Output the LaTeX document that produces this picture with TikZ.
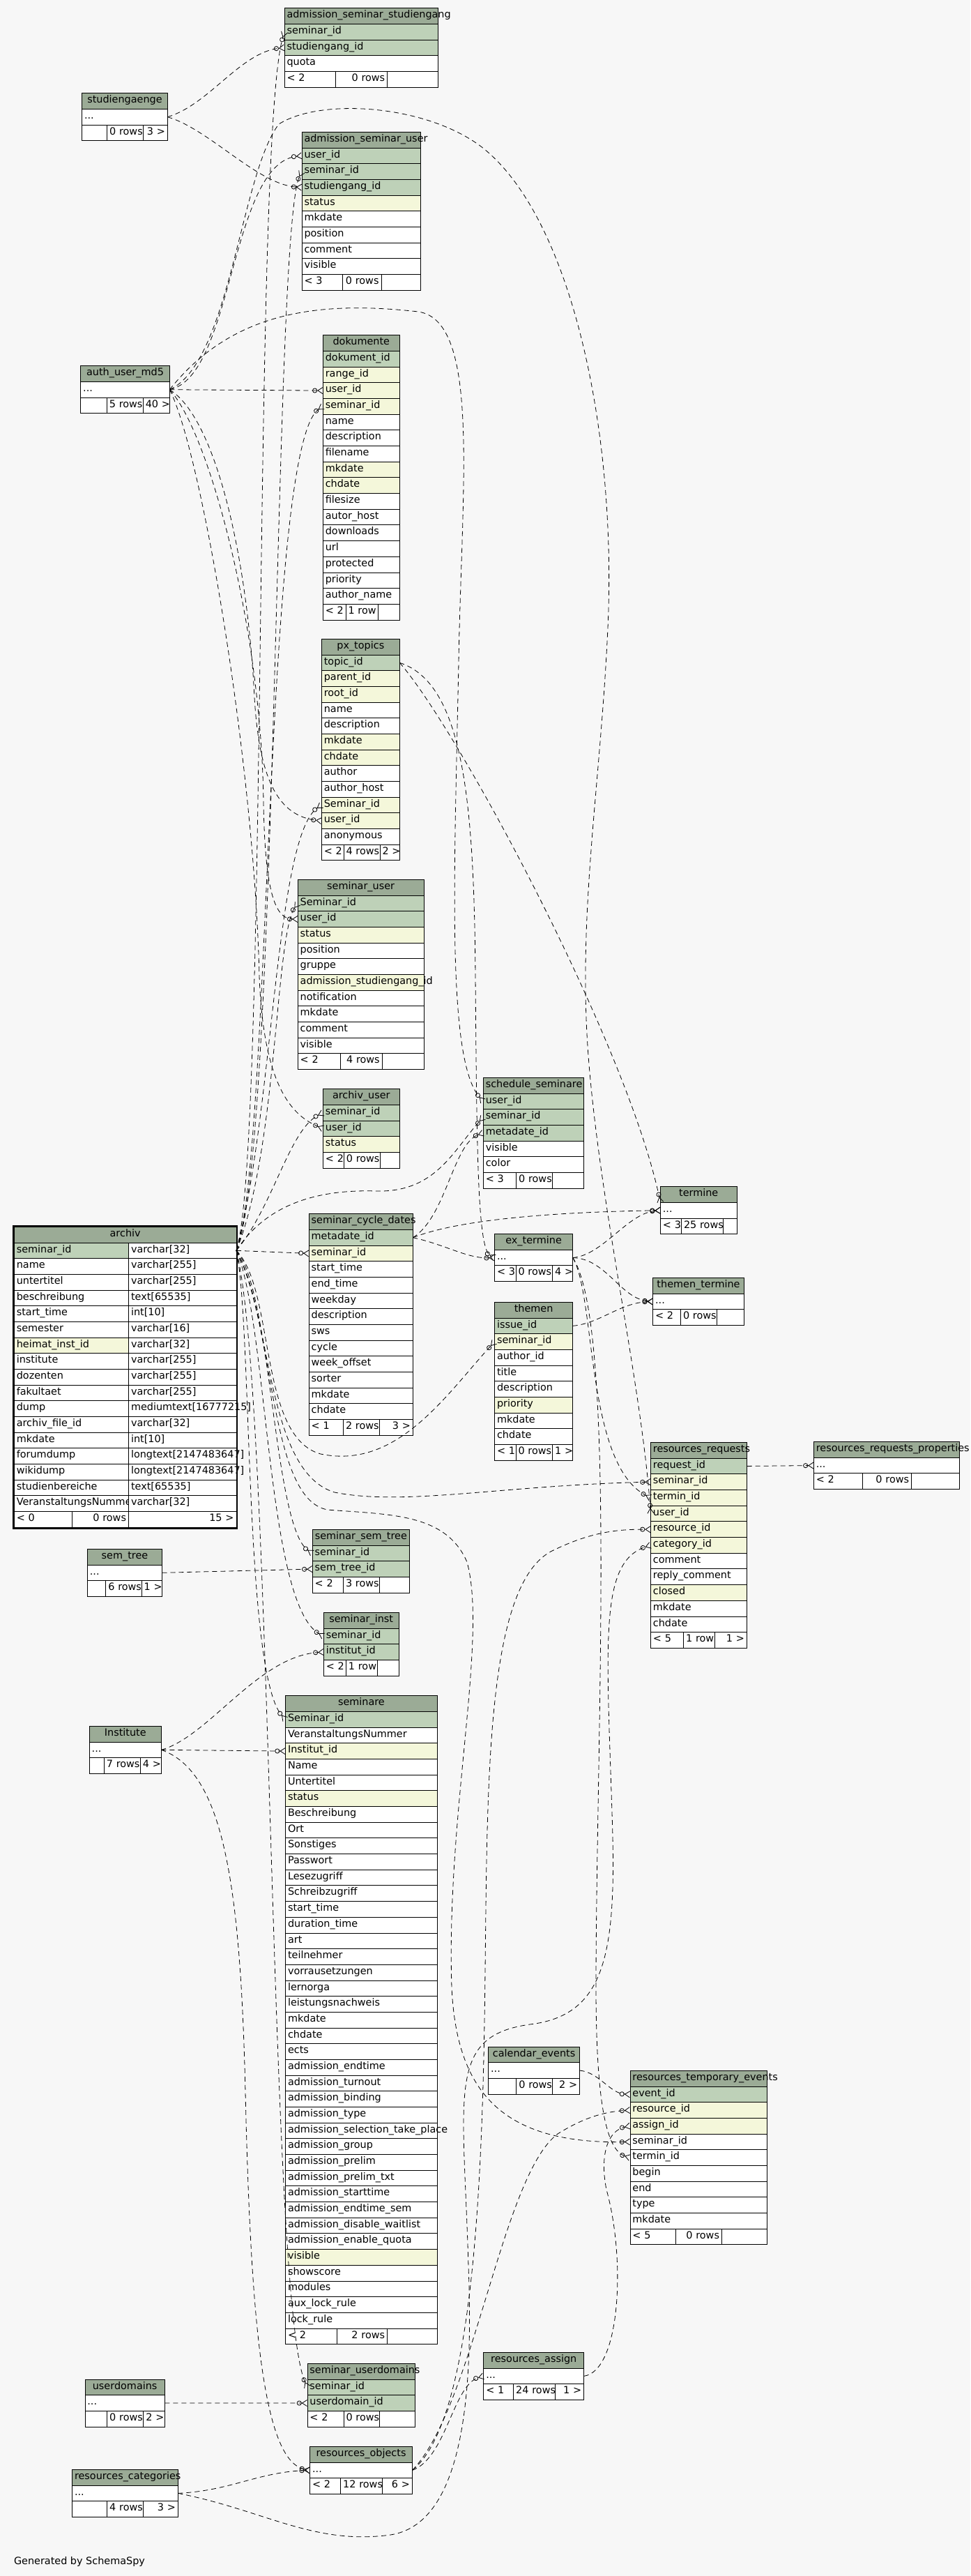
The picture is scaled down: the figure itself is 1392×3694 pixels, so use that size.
\documentclass[tikz,border=0pt]{standalone}
\usepackage{fontspec}
\setmainfont{DejaVu Sans}
\usepackage{tikz}
\usetikzlibrary{arrows.meta,positioning,fit}

\definecolor{hdr}{HTML}{9BAB96}
\definecolor{pk}{HTML}{BED1B8}
\definecolor{ix}{HTML}{F4F7DA}
\definecolor{wt}{HTML}{FFFFFF}
\definecolor{bg}{HTML}{F7F7F7}

\newcommand{\tdots}{...}
\newcommand{\dbfont}{\fontsize{14.4pt}{17pt}\selectfont}

%% table: name, x, y, width, title, rows (text/colour)
\newcommand{\dbtab}[6]{%
  \pgfmathsetlengthmacro{\dbtw}{#4-7}%
  \node[thead, text width=\dbtw, anchor=north west] (#1-0) at (#2,#3) {#5};
  \foreach \txt/\kind [count=\i, evaluate=\i as \j using int(\i-1)] in {#6}
    \node[trow, fill=\kind, text width=\dbtw, below=0pt of #1-\j] (#1-\i) {\txt};
}
%% footer: name, last row, three cell widths, three texts
\newcommand{\dbfoot}[8]{%
  \pgfmathsetlengthmacro{\dbwa}{#3-7}%
  \pgfmathsetlengthmacro{\dbwb}{#4-7}%
  \pgfmathsetlengthmacro{\dbwc}{#5-7}%
  \node[tcell, text width=\dbwa, align=left, anchor=north west] (#1-fa) at (#1-#2.south west) {\mbox{#6}};
  \node[tcell, text width=\dbwb, align=right, right=0pt of #1-fa] (#1-fb) {\mbox{#7}};
  \node[tcell, text width=\dbwc, align=right, right=0pt of #1-fb] (#1-fc) {\mbox{#8}};
}

\begin{document}
\begin{tikzpicture}[x=1pt, y=-1pt,
  thead/.style={rectangle, draw=black, fill=hdr, line width=0.8pt,
    inner xsep=3.5pt, inner ysep=0pt, outer sep=0pt,
    minimum height=22.68pt, text height=10pt, text depth=4.5pt,
    align=center, font=\dbfont},
  trow/.style={thead, align=left},
  tcell/.style={thead, fill=wt},
  rel/.style={line width=0.8pt, dash pattern=on 7pt off 5pt,
    -{Circle[open,length=7pt,width=7pt] Straight Barb[reversed,length=7pt,width=9pt]}},
]

\path[fill=bg, use as bounding box] (0,0) rectangle (1392,3694);

%% ── Tables, top ───────────────────────────────────────────────────
\dbtab{ass}{408}{11.7}{220.3}{admission\_seminar\_studiengang}{seminar\_id/pk, studiengang\_id/pk, quota/wt}
\dbfoot{ass}{3}{73.4}{74.3}{72.6}{< 2}{0 rows}{}

\dbtab{sg}{117.5}{133.7}{122.9}{studiengaenge}{\tdots/wt}
\dbfoot{sg}{1}{36.1}{52.1}{34.7}{}{0 rows}{3 >}

\dbtab{asu}{433}{189.3}{170}{admission\_seminar\_user}{user\_id/pk, seminar\_id/pk, studiengang\_id/pk, status/ix, mkdate/wt, position/wt, comment/wt, visible/wt}
\dbfoot{asu}{8}{58.8}{55.2}{56}{< 3}{0 rows}{}

\dbtab{aum}{115.7}{524.7}{127.6}{auth\_user\_md5}{\tdots/wt}
\dbfoot{aum}{1}{37.6}{52}{38}{}{5 rows}{40 >}

\dbtab{dok}{463.3}{480.7}{110}{dokumente}{dokument\_id/pk, range\_id/ix, user\_id/ix, seminar\_id/ix, name/wt, description/wt, filename/wt, mkdate/ix, chdate/ix, filesize/wt, autor\_host/wt, downloads/wt, url/wt, protected/wt, priority/wt, author\_name/wt}
\dbfoot{dok}{16}{32.7}{46}{31.3}{< 2}{1 row}{}

\dbtab{pxt}{461.3}{916.3}{112}{px\_topics}{topic\_id/pk, parent\_id/ix, root\_id/ix, name/wt, description/wt, mkdate/ix, chdate/ix, author/wt, author\_host/wt, Seminar\_id/ix, user\_id/ix, anonymous/wt}
\dbfoot{pxt}{12}{31.7}{52}{28.3}{< 2}{4 rows}{2 >}

\dbtab{su}{427.2}{1261.3}{180.8}{seminar\_user}{Seminar\_id/pk, user\_id/pk, status/ix, position/wt, gruppe/wt, admission\_studiengang\_id/ix, notification/wt, mkdate/wt, comment/wt, visible/wt}
\dbfoot{su}{10}{61.2}{59.8}{59.8}{< 2}{4 rows}{}

\dbtab{au}{463.4}{1561.7}{109.8}{archiv\_user}{seminar\_id/pk, user\_id/pk, status/ix}
\dbfoot{au}{3}{29.9}{52.2}{27.7}{< 2}{0 rows}{}

\dbtab{ss}{693.3}{1545.3}{143.7}{schedule\_seminare}{user\_id/pk, seminar\_id/pk, metadate\_id/pk, visible/wt, color/wt}
\dbfoot{ss}{5}{47.3}{51.4}{45}{< 3}{0 rows}{}

%% ── Tables, middle ────────────────────────────────────────────────
\dbtab{ter}{947.4}{1701.7}{109.6}{termine}{\tdots/wt}
\dbfoot{ter}{1}{30.1}{59.9}{19.6}{< 3}{25 rows}{}

\dbtab{ext}{709.5}{1769.5}{112.2}{ex\_termine}{\tdots/wt}
\dbfoot{ext}{1}{30.5}{52.6}{29.1}{< 3}{0 rows}{4 >}

\dbtab{tt}{936.6}{1832.4}{130.8}{themen\_termine}{\tdots/wt}
\dbfoot{tt}{1}{39.9}{52.3}{38.6}{< 2}{0 rows}{}

\dbtab{thm}{709.5}{1867.3}{112.2}{themen}{issue\_id/pk, seminar\_id/ix, author\_id/wt, title/wt, description/wt, priority/ix, mkdate/wt, chdate/wt}
\dbfoot{thm}{8}{30.5}{52.6}{29.1}{< 1}{0 rows}{1 >}

\dbtab{rr}{933.4}{2068.4}{138.1}{resources\_requests}{request\_id/pk, seminar\_id/ix, termin\_id/ix, user\_id/ix, resource\_id/ix, category\_id/ix, comment/wt, reply\_comment/wt, closed/ix, mkdate/wt, chdate/wt}
\dbfoot{rr}{11}{47.2}{45}{45.9}{< 5}{1 row}{1 >}

\dbtab{rrp}{1167.3}{2067.5}{209.3}{resources\_requests\_properties}{\tdots/wt}
\dbfoot{rrp}{1}{70.4}{69.9}{69}{< 2}{0 rows}{}

\dbtab{scd}{443.2}{1740.7}{149.2}{seminar\_cycle\_dates}{metadate\_id/pk, seminar\_id/ix, start\_time/wt, end\_time/wt, weekday/wt, description/wt, sws/wt, cycle/wt, week\_offset/wt, sorter/wt, mkdate/wt, chdate/wt}
\dbfoot{scd}{12}{49.3}{51.7}{48.2}{< 1}{2 rows}{3 >}

%% ── archiv (two columns) ──────────────────────────────────────────
\node[thead, text width=311.7pt, anchor=north west] (arc-0) at (20.3,1759.3) {archiv};
\foreach \cname/\ctype/\kind [count=\i, evaluate=\i as \j using int(\i-1)] in {
    seminar\_id/varchar[32]/pk, name/varchar[255]/wt, untertitel/varchar[255]/wt,
    beschreibung/text[65535]/wt, start\_time/int[10]/wt, semester/varchar[16]/wt,
    heimat\_inst\_id/varchar[32]/ix, institute/varchar[255]/wt, dozenten/varchar[255]/wt,
    fakultaet/varchar[255]/wt, dump/mediumtext[16777215]/wt, archiv\_file\_id/varchar[32]/wt,
    mkdate/int[10]/wt, forumdump/longtext[2147483647]/wt, wikidump/longtext[2147483647]/wt,
    studienbereiche/text[65535]/wt, VeranstaltungsNummer/varchar[32]/wt} {
  \node[trow, fill=\kind, text width=157.2pt, anchor=north west] (arc-\i) at (arc-\j.south west) {\cname};
  \node[trow, fill=wt, text width=147.5pt, anchor=north west] (arct-\i) at (arc-\i.north east) {\ctype};
}
\dbfoot{arc}{17}{83}{81.2}{154.5}{< 0}{0 rows}{15 >}
\node[draw, line width=2.4pt, inner sep=1.2pt, fit=(arc-0)(arc-fc)] (arcbox) {};

%% ── Tables, lower ─────────────────────────────────────────────────
\dbtab{sst}{448.2}{2193.3}{139.3}{seminar\_sem\_tree}{seminar\_id/pk, sem\_tree\_id/pk}
\dbfoot{sst}{2}{44.3}{52.1}{42.9}{< 2}{3 rows}{}

\dbtab{st}{125.4}{2221.3}{107.1}{sem\_tree}{\tdots/wt}
\dbfoot{st}{1}{26.4}{51.4}{29.3}{}{6 rows}{1 >}

\dbtab{si}{464.3}{2312.3}{107.8}{seminar\_inst}{seminar\_id/pk, institut\_id/pk}
\dbfoot{si}{2}{32.1}{45}{30.7}{< 2}{1 row}{}

\dbtab{inst}{128.2}{2475.3}{103.2}{Institute}{\tdots/wt}
\dbfoot{inst}{1}{21.1}{52.1}{30}{}{7 rows}{4 >}

\dbtab{sem}{409.5}{2431.7}{217.8}{seminare}{Seminar\_id/pk, VeranstaltungsNummer/wt, Institut\_id/ix, Name/wt, Untertitel/wt, status/ix, Beschreibung/wt, Ort/wt, Sonstiges/wt, Passwort/wt, Lesezugriff/wt, Schreibzugriff/wt, start\_time/wt, duration\_time/wt, art/wt, teilnehmer/wt, vorrausetzungen/wt, lernorga/wt, leistungsnachweis/wt, mkdate/wt, chdate/wt, ects/wt, admission\_endtime/wt, admission\_turnout/wt, admission\_binding/wt, admission\_type/wt, admission\_selection\_take\_place/wt, admission\_group/wt, admission\_prelim/wt, admission\_prelim\_txt/wt, admission\_starttime/wt, admission\_endtime\_sem/wt, admission\_disable\_waitlist/wt, admission\_enable\_quota/wt, visible/ix, showscore/wt, modules/wt, aux\_lock\_rule/wt, lock\_rule/wt}
\dbfoot{sem}{39}{73.4}{72.7}{71.7}{< 2}{2 rows}{}

\dbtab{ce}{700.6}{2935}{131.1}{calendar\_events}{\tdots/wt}
\dbfoot{ce}{1}{40.2}{51.6}{39.3}{}{0 rows}{2 >}

\dbtab{rte}{903.9}{2969.3}{196.7}{resources\_temporary\_events}{event\_id/pk, resource\_id/ix, assign\_id/ix, seminar\_id/wt, termin\_id/wt, begin/wt, end/wt, type/wt, mkdate/wt}
\dbfoot{rte}{9}{65.6}{66}{65.1}{< 5}{0 rows}{}

\dbtab{ra}{693.8}{3373.3}{143.9}{resources\_assign}{\tdots/wt}
\dbfoot{ra}{1}{42.9}{60}{41}{< 1}{24 rows}{1 >}

\dbtab{sud}{440.9}{3389.3}{154.3}{seminar\_userdomains}{seminar\_id/pk, userdomain\_id/pk}
\dbfoot{sud}{2}{52.1}{51.4}{50.8}{< 2}{0 rows}{}

\dbtab{ud}{121.9}{3412}{114.5}{userdomains}{\tdots/wt}
\dbfoot{ud}{1}{31.8}{52.1}{30.6}{}{0 rows}{2 >}

\dbtab{ro}{444.6}{3508.3}{146.9}{resources\_objects}{\tdots/wt}
\dbfoot{ro}{1}{44.1}{60}{42.8}{< 2}{12 rows}{6 >}

\dbtab{rc}{103.5}{3541.3}{151.9}{resources\_categories}{\tdots/wt}
\dbfoot{rc}{1}{50.2}{52.1}{49.6}{}{4 rows}{3 >}

\node[anchor=base west, font=\dbfont] (gen) at (16.5,3677) {Generated by SchemaSpy};

%% ── Relations: studiengaenge ──────────────────────────────────────
\draw[rel] (sg-1.east) .. controls (300,150) and (345,75) .. (ass-2.west);
\draw[rel] (sg-1.east) .. controls (300,185) and (370,265) .. (asu-3.west);

%% ── Relations: auth_user_md5 ──────────────────────────────────────
\draw[rel] (aum-1.east) .. controls (335,540) and (330,235) .. (asu-1.west);
\draw[rel] (aum-1.east) -- (dok-3.west);
\draw[rel] (aum-1.east) .. controls (330,450) and (450,430) .. (600,447)
  .. controls (690,460) and (662,700) .. (658,950)
  .. controls (652,1250) and (640,1520) .. (ss-1.west);
\draw[rel] (aum-1.east) .. controls (310,600) and (355,800) .. (365,1000)
  .. controls (372,1120) and (400,1170) .. (pxt-11.west);
\draw[rel] (aum-1.east) .. controls (300,620) and (375,900) .. (378,1150)
  .. controls (380,1280) and (395,1318) .. (su-2.west);
\draw[rel] (aum-1.east) .. controls (290,650) and (365,1100) .. (372,1400)
  .. controls (378,1560) and (420,1600) .. (au-2.west);
\draw[rel] (aum-1.east) .. controls (330,520) and (345,250) .. (400,178)
  .. controls (460,140) and (610,150) .. (690,210)
  .. controls (820,310) and (885,620) .. (872,900)
  .. controls (862,1120) and (830,1300) .. (843,1500)
  .. controls (858,1720) and (920,1980) .. (rr-4.west);

%% ── Relations: archiv ─────────────────────────────────────────────
\draw[rel] (arct-1.east) .. controls (385,1650) and (362,200) .. (ass-1.west);
\draw[rel] (arct-1.east) .. controls (400,1650) and (392,330) .. (asu-2.west);
\draw[rel] (arct-1.east) .. controls (390,1650) and (378,640) .. (dok-4.west);
\draw[rel] (arct-1.east) .. controls (392,1600) and (395,1200) .. (pxt-10.west);
\draw[rel] (arct-1.east) .. controls (398,1650) and (395,1340) .. (su-1.west);
\draw[rel] (arct-1.east) .. controls (392,1730) and (415,1620) .. (au-1.west);
\draw[rel] (arct-1.east) .. controls (380,1730) and (450,1705) .. (540,1708)
  .. controls (625,1710) and (650,1650) .. (ss-2.west);
\draw[rel] (arct-1.east) -- (scd-2.west);
\draw[rel] (arct-1.east) .. controls (395,1850) and (370,2060) .. (460,2085)
  .. controls (570,2108) and (640,2000) .. (thm-2.west);
\draw[rel] (arct-1.east) .. controls (390,1880) and (380,2110) .. (480,2140)
  .. controls (580,2160) and (720,2130) .. (rr-2.west);
\draw[rel] (arct-1.east) .. controls (390,1850) and (392,2190) .. (sst-1.west);
\draw[rel] (arct-1.east) .. controls (385,1900) and (382,2300) .. (si-1.west);
\draw[rel] (arct-1.east) .. controls (362,1900) and (350,2400) .. (sem-1.west);
\draw[rel] (arct-1.east) .. controls (392,2000) and (385,3300) .. (sud-1.west);
\draw[rel] (arct-1.east) .. controls (395,1900) and (385,2150) .. (470,2165)
  .. controls (560,2172) and (640,2170) .. (670,2240)
  .. controls (700,2350) and (640,2600) .. (648,2850)
  .. controls (655,3000) and (720,3075) .. (rte-4.west);

%% ── Relations: dates and topics ───────────────────────────────────
\draw[rel] (scd-1.east) .. controls (640,1745) and (650,1640) .. (ss-3.west);
\draw[rel] (scd-1.east) .. controls (660,1748) and (800,1738) .. (ter-1.west);
\draw[rel] (scd-1.east) .. controls (640,1785) and (670,1805) .. (ext-1.west);
\draw[rel] (pxt-1.east) .. controls (660,1050) and (900,1500) .. (ter-1.north west);
\draw[rel] (pxt-1.east) .. controls (665,980) and (680,1150) .. (682,1400)
  .. controls (684,1650) and (685,1790) .. (ext-1.west);
\draw[rel] (ext-1.east) .. controls (865,1800) and (900,1740) .. (ter-1.west);
\draw[rel] (ext-1.east) .. controls (870,1805) and (890,1862) .. (tt-1.west);
\draw[rel] (ext-1.east) .. controls (855,1860) and (840,2100) .. (rr-3.west);
\draw[rel] (ext-1.east) .. controls (885,1900) and (855,2500) .. (855,2850)
  .. controls (855,3040) and (875,3085) .. (rte-5.west);
\draw[rel] (thm-1.east) .. controls (860,1898) and (890,1868) .. (tt-1.west);
\draw[rel] (rr-1.east) -- (rrp-1.west);

%% ── Relations: resources ──────────────────────────────────────────
\draw[rel] (ro-1.east) .. controls (670,3480) and (690,3200) .. (695,2900)
  .. controls (700,2600) and (690,2280) .. (790,2225)
  .. controls (850,2195) and (890,2193) .. (rr-5.west);
\draw[rel] (ro-1.east) .. controls (680,3450) and (720,3120) .. (800,3060)
  .. controls (840,3035) and (870,3028) .. (rte-2.west);
\draw[rel] (ro-1.east) .. controls (640,3525) and (650,3420) .. (ra-1.west);
\draw[rel] (ra-1.east) .. controls (890,3400) and (898,3240) .. (870,3140)
  .. controls (860,3090) and (872,3055) .. (rte-3.west);
\draw[rel] (ce-1.east) .. controls (860,2972) and (875,3002) .. (rte-1.west);
\draw[rel] (rc-1.east) .. controls (330,3572) and (370,3545) .. (ro-1.west);
\draw[rel] (rc-1.east) .. controls (380,3600) and (450,3650) .. (560,3635)
  .. controls (660,3620) and (680,3450) .. (672,3250)
  .. controls (665,3000) and (640,2920) .. (760,2903)
  .. controls (870,2890) and (885,2800) .. (878,2600)
  .. controls (870,2350) and (860,2240) .. (rr-6.west);

%% ── Relations: institutes, trees, domains ─────────────────────────
\draw[rel] (inst-1.east) .. controls (300,2490) and (370,2375) .. (si-2.west);
\draw[rel] (inst-1.east) -- (sem-3.west);
\draw[rel] (inst-1.east) .. controls (320,2540) and (345,2700) .. (352,3000)
  .. controls (360,3350) and (380,3530) .. (ro-1.west);
\draw[rel] (st-1.east) -- (sst-2.west);
\draw[rel] (ud-1.east) -- (sud-2.west);

\end{tikzpicture}
\end{document}
